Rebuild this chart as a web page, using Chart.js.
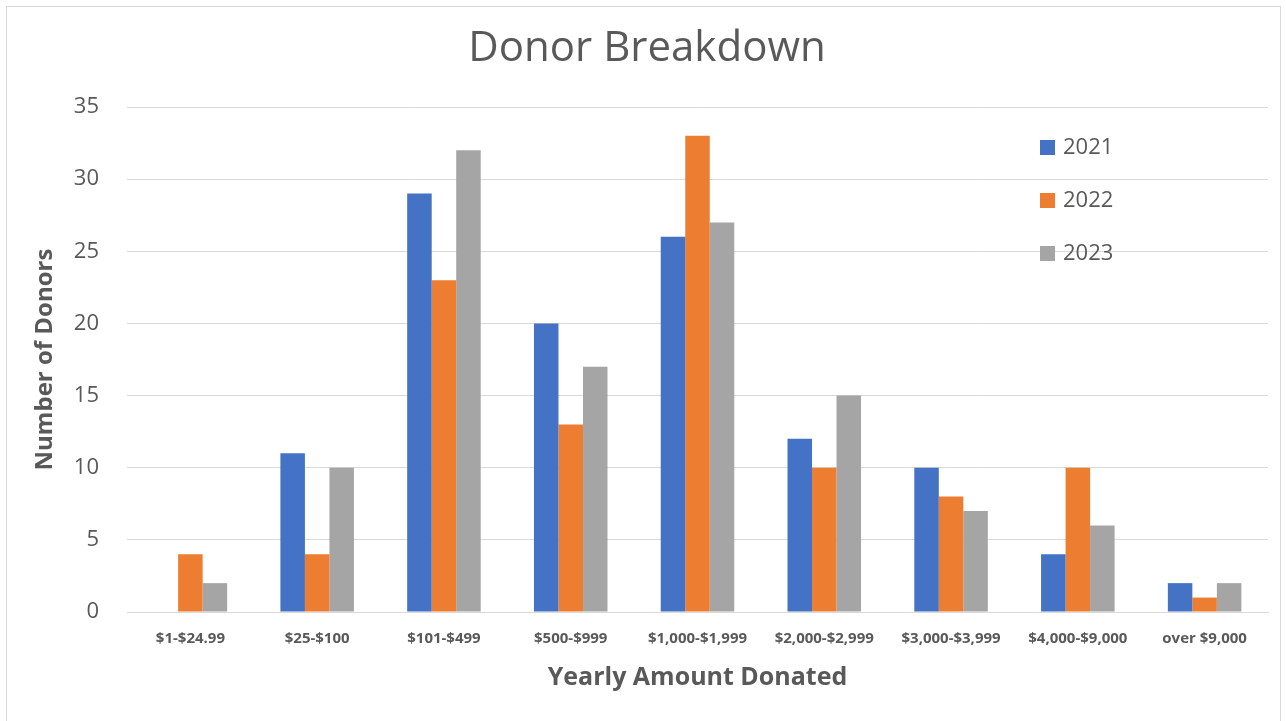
<!DOCTYPE html>
<html>
<head>
<meta charset="utf-8">
<script src="https://cdn.jsdelivr.net/npm/chart.js@4/dist/chart.umd.min.js"></script>
<style>
  html, body { margin: 0; padding: 0; background: #fff; overflow: hidden; }
  .wrap { position: relative; width: 1286px; height: 721px; }
  .frame { position: absolute; left: 6px; top: 6px; width: 1275px; height: 740px; border: 1px solid #d9d9d9; box-sizing: border-box; }
  canvas { position: absolute; left: 0; top: 0; }
</style>
</head>
<body>
<div class="wrap">
  <div class="frame"></div>
  <canvas id="chart" width="1286" height="721"></canvas>
</div>
<script>
// donor counts per giving bracket
const categories = ['$1-$24.99', '$25-$100', '$101-$499', '$500-$999', '$1,000-$1,999',
  '$2,000-$2,999', '$3,000-$3,999', '$4,000-$9,000', 'over $9,000'];
const donors2021 = [0, 11, 29, 20, 26, 12, 10, 4, 2];
const donors2022 = [4, 4, 23, 13, 33, 10, 8, 10, 1];
const donors2023 = [2, 10, 32, 17, 27, 15, 7, 6, 2];
const yTicks = [0, 5, 10, 15, 20, 25, 30, 35];

const FONT = '"Open Sans", Lato, sans-serif';
const GREY = '#595959';

// legend sits inside the plot, like the excel one
const insideLegend = {
  id: 'insideLegend',
  afterDraw(chart) {
    const ctx = chart.ctx;
    ctx.save();
    ctx.font = '22px ' + FONT;
    ctx.textBaseline = 'middle';
    chart.data.datasets.forEach((ds, i) => {
      const y = 147 + i * 53;
      ctx.fillStyle = ds.backgroundColor;
      ctx.fillRect(1040, y - 7, 15, 15);
      ctx.fillStyle = GREY;
      ctx.fillText(ds.label, 1063, y + 1);
    });
    ctx.restore();
  }
};

new Chart(document.getElementById('chart'), {
  type: 'bar',
  data: {
    labels: categories,
    datasets: [
      { label: '2021', data: donors2021, backgroundColor: '#4472C4' },
      { label: '2022', data: donors2022, backgroundColor: '#ED7D31' },
      { label: '2023', data: donors2023, backgroundColor: '#A5A5A5' }
    ]
  },
  options: {
    responsive: false,
    animation: false,
    datasets: { bar: { categoryPercentage: 0.58, barPercentage: 1.0 } },
    layout: { padding: { left: 26, right: 18, top: 0, bottom: 0 } },
    plugins: {
      legend: { display: false },
      tooltip: { enabled: false },
      title: {
        display: true,
        text: 'Donor Breakdown',
        color: GREY,
        font: { family: FONT, size: 42, weight: 'normal', lineHeight: 1.2 },
        padding: { top: 24, bottom: 32.6 }
      }
    },
    scales: {
      x: {
        grid: { display: false },
        border: { display: true, color: '#d9d9d9', width: 1 },
        ticks: { color: GREY, font: { family: FONT, size: 15, weight: 'bold' }, padding: 10, maxRotation: 0, autoSkip: false },
        title: {
          display: true,
          text: 'Yearly Amount Donated',
          color: GREY,
          font: { family: FONT, size: 25, weight: 'bold', lineHeight: 1.2 },
          padding: { top: 0, bottom: 28 }
        },
        afterFit(scale) { scale.height = 109; }
      },
      y: {
        min: 0,
        max: 35,
        grid: { color: '#d9d9d9', lineWidth: 1, drawTicks: false },
        border: { display: false },
        afterBuildTicks(scale) { scale.ticks = yTicks.map(v => ({ value: v })); },
        ticks: { color: GREY, font: { family: FONT, size: 22 }, padding: 28 },
        title: {
          display: true,
          text: 'Number of Donors',
          color: GREY,
          font: { family: FONT, size: 24, weight: 'bold', lineHeight: 1.2 },
          padding: { top: 5, bottom: 0 }
        },
        afterFit(scale) { scale.width = 101; }
      }
    }
  },
  plugins: [insideLegend]
});
</script>
</body>
</html>
